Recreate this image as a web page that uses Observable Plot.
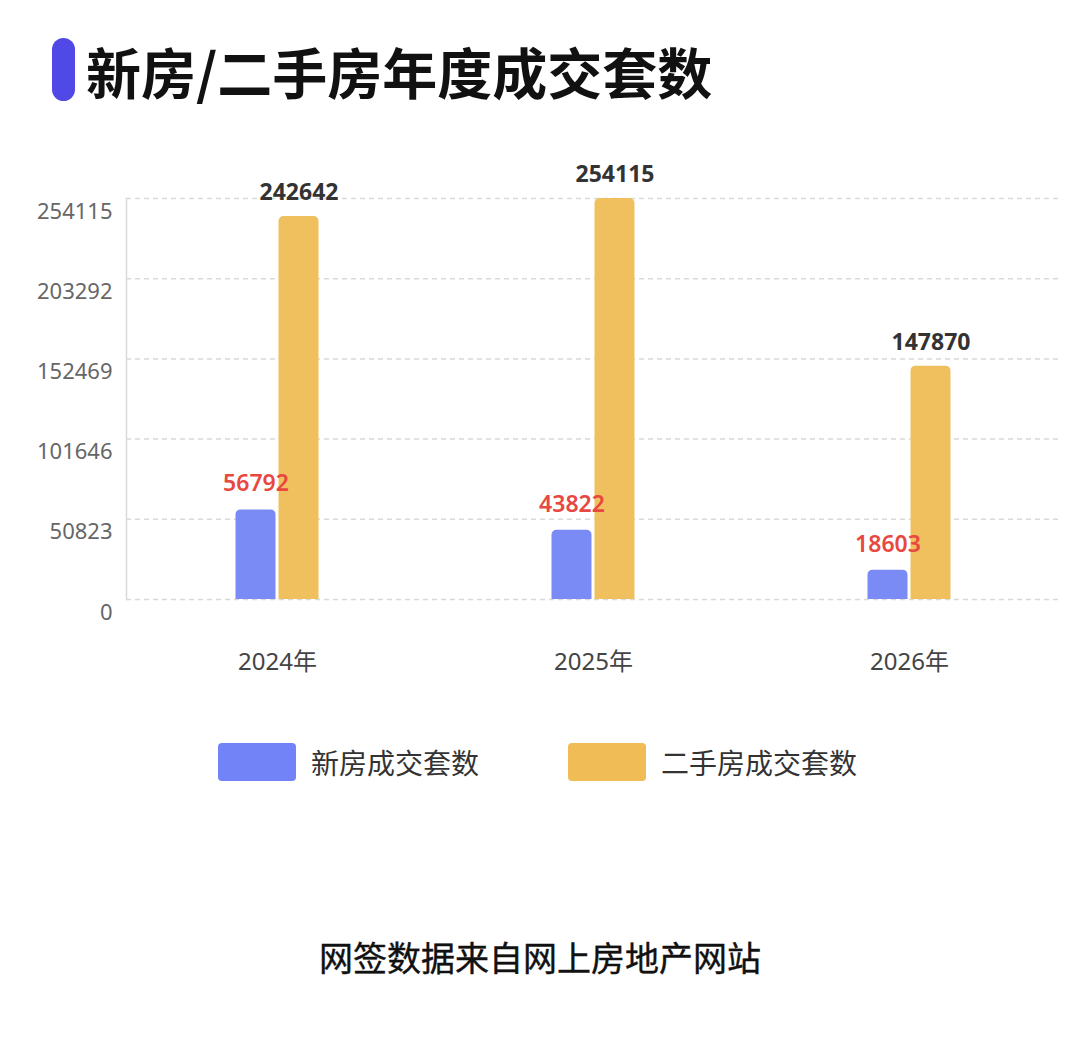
<!DOCTYPE html>
<html>
<head>
<meta charset="utf-8">
<script src="https://cdn.jsdelivr.net/npm/d3@7"></script>
<script src="https://cdn.jsdelivr.net/npm/@observablehq/plot@0.6"></script>
<style>
  html, body { margin: 0; padding: 0; background: #fff; }
  body { width: 1080px; height: 1043px; position: relative; overflow: hidden;
         font-family: "Noto Sans", "Noto Sans CJK SC", sans-serif; }
  #pill { position: absolute; left: 52px; top: 38px; width: 23px; height: 63px;
          border-radius: 12px; background: #5149e6; }
  #title { position: absolute; left: 86px; top: 32px; font-size: 55px; font-weight: 700;
           color: #111; line-height: 76px; font-family: "Noto Sans CJK SC", sans-serif; }
  #chart { position: absolute; left: 0; top: 140px; }
  .leg { position: absolute; top: 743px; height: 38px; display: flex; align-items: center; }
  .sw { width: 78px; height: 38px; border-radius: 4px; margin-right: 15px; }
  .lt { font-size: 28px; color: #333; font-family: "Noto Sans CJK SC", sans-serif; }
  #caption { position: absolute; left: 0; width: 1080px; top: 933px; text-align: center;
             font-size: 34px; font-weight: 400; color: #111; line-height: 48px;
             font-family: "Noto Sans CJK SC", sans-serif; -webkit-text-stroke: 0.4px #111; }
</style>
</head>
<body>
<div id="pill"></div>
<div id="title">新房/二手房年度成交套数</div>
<div id="chart"></div>
<div class="leg" style="left:218px"><div class="sw" style="background:#7283f7"></div><span class="lt">新房成交套数</span></div>
<div class="leg" style="left:568px"><div class="sw" style="background:#f0bc55"></div><span class="lt">二手房成交套数</span></div>
<div id="caption">网签数据来自网上房地产网站</div>
<script>
const years = ["2024年", "2025年", "2026年"];
const seriesNames = ["新房成交套数", "二手房成交套数"];
const newHouse = [56792, 43822, 18603];
const secondHand = [242642, 254115, 147870];
const yTicks = [0, 50823, 101646, 152469, 203292, 254115];

const newRows = years.map((y, i) => ({year: y, series: seriesNames[0], value: newHouse[i]}));
const oldRows = years.map((y, i) => ({year: y, series: seriesNames[1], value: secondHand[i]}));

const blue = "#7a8bf5";
const orange = "#f0c05f";

const chart = Plot.plot({
  width: 1080,
  height: 540,
  marginTop: 58,
  marginBottom: 81,
  marginLeft: 126,
  marginRight: 18,
  style: {fontFamily: '"Noto Sans", "Noto Sans CJK SC", sans-serif', background: "transparent"},
  x: {domain: years, range: [119, 1067], padding: 0, label: null},
  y: {domain: [0, 254115], label: null},
  marks: [
    Plot.ruleY(yTicks, {stroke: "#d9d9d9", strokeWidth: 1.5, strokeDasharray: "5,4"}),
    Plot.frame({anchor: "left", stroke: "#d9d9d9", strokeWidth: 1.5}),
    Plot.axisY({ticks: yTicks, tickSize: 0, tickPadding: 14, fontSize: 22, fill: "#666",
                tickFormat: d => String(d), dy: 13, label: null}),
    Plot.axisX({tickSize: 0, tickPadding: 53, fontSize: 24, fill: "#444", label: null}),
    Plot.barY(newRows, {x: "year", y: "value", fill: blue, insetLeft: 116.5, insetRight: 159.5, ry1: 5}),
    Plot.barY(oldRows, {x: "year", y: "value", fill: orange, insetLeft: 159.5, insetRight: 116.5, ry1: 5}),
    Plot.text(newRows, {x: "year", y: "value", text: d => String(d.value), dx: -21.5, dy: -26,
                        fill: "#e8483f", fontSize: 23, fontWeight: 600}),
    Plot.text(oldRows, {x: "year", y: "value", text: d => String(d.value), dx: 21.5, dy: -24,
                        fill: "#333", fontSize: 23, fontWeight: 700})
  ]
});
document.getElementById("chart").appendChild(chart);
</script>
</body>
</html>
